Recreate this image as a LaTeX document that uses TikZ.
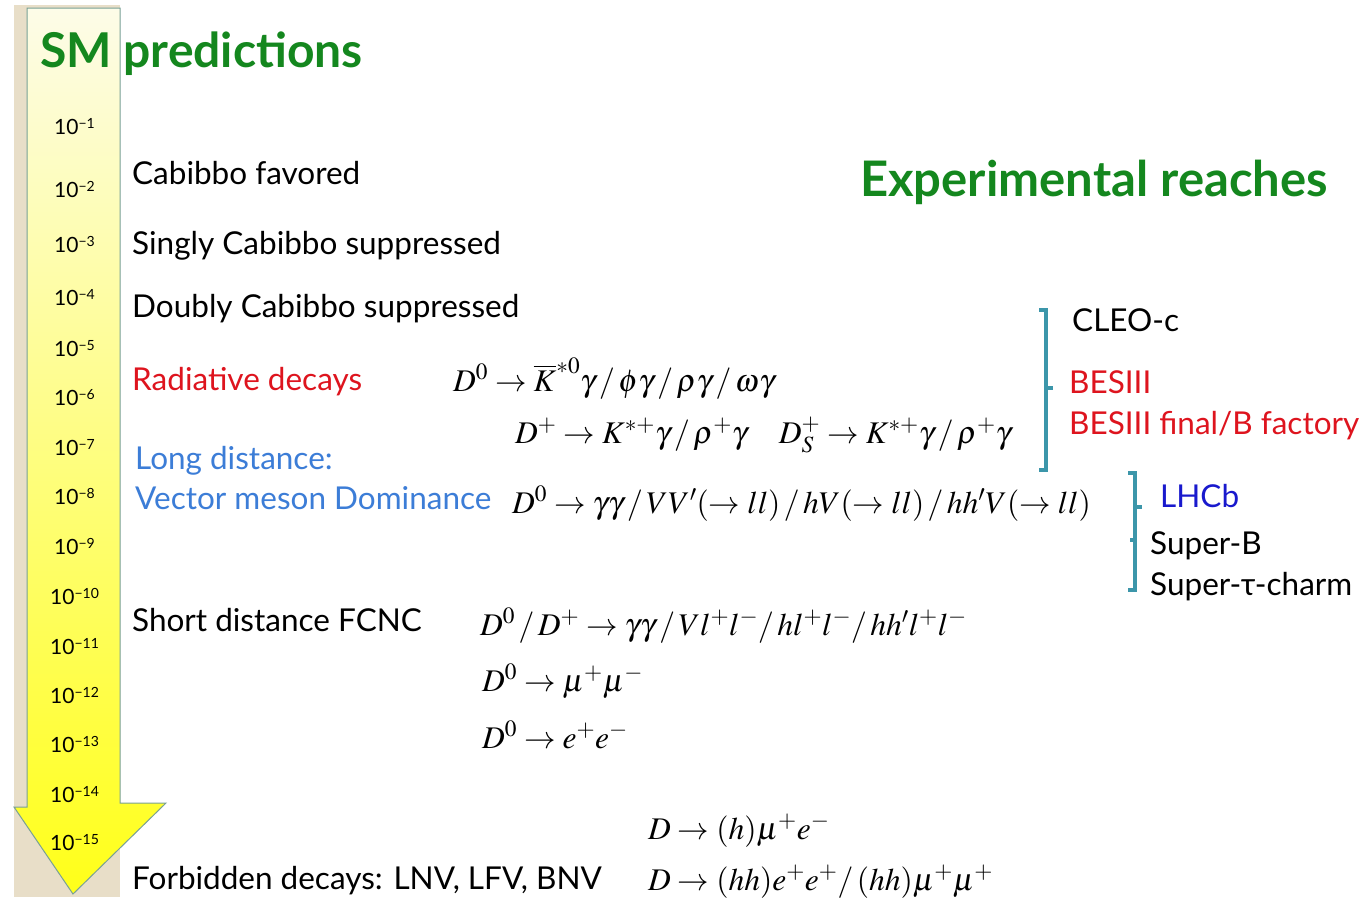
\documentclass[tikz,border=0pt]{standalone}
\usepackage{mathptmx}
\usepackage[no-math]{fontspec}
\setmainfont{Lato}
\definecolor{smgreen}{RGB}{20,135,30}
\definecolor{radred}{RGB}{222,20,30}
\definecolor{ldblue}{RGB}{60,125,215}
\definecolor{lhcblue}{RGB}{25,25,205}
\definecolor{brteal}{RGB}{60,150,170}
\definecolor{beige}{RGB}{232,222,200}
\definecolor{arrowedge}{RGB}{120,160,150}
\definecolor{paleyel}{RGB}{253,252,232}
\definecolor{midyel}{RGB}{255,253,110}
\definecolor{deepyel}{RGB}{255,255,25}
\tikzset{
  lbl/.style={anchor=base west, inner sep=0pt, font=\fontsize{31.5}{36}\selectfont},
  eq/.style={anchor=base west, inner sep=0pt, font=\fontsize{31.5}{36}\selectfont},
  tick/.style={anchor=base west, inner sep=0pt, font=\fontsize{21}{24}\selectfont},
  ttl/.style={anchor=base west, inner sep=0pt, text=smgreen, font=\fontsize{48}{54}\selectfont\bfseries},
  brace/.style={draw=brteal, line width=3.8pt},
}
\newcommand{\tk}[1]{10\raisebox{0.55ex}{\fontsize{14}{14}\selectfont\textminus#1}}
\begin{document}
\begin{tikzpicture}[x=1pt,y=-1pt]
\useasboundingbox (0,0) rectangle (1367,897);
\fill[white] (0,0) rectangle (1367,897);
% background strip
\fill[beige] (14,5) rectangle (120,897);
% arrow
\shade[top color=paleyel, middle color=midyel, bottom color=deepyel, draw=arrowedge, line width=1pt]
  (27,8) -- (120,8) -- (120,803) -- (166,803) -- (73,894) -- (14,807) -- (27,807) -- cycle;
% titles
\node[ttl] (sm) at (40,67) {SM predictions};
\node[ttl, font=\fontsize{49}{55}\selectfont\bfseries] (exp) at (860,196) {Experimental reaches};
% ticks
\node[tick] (t1) at (54,134) {\tk{1}};
\node[tick] (t2) at (54,197) {\tk{2}};
\node[tick] (t3) at (54,252) {\tk{3}};
\node[tick] (t4) at (54,305) {\tk{4}};
\node[tick] (t5) at (54,356) {\tk{5}};
\node[tick] (t6) at (54,405) {\tk{6}};
\node[tick] (t7) at (54,455) {\tk{7}};
\node[tick] (t8) at (54,504) {\tk{8}};
\node[tick] (t9) at (54,554) {\tk{9}};
\node[tick] (t10) at (50,604) {\tk{10}};
\node[tick] (t11) at (50,654) {\tk{11}};
\node[tick] (t12) at (50,703) {\tk{12}};
\node[tick] (t13) at (50,752) {\tk{13}};
\node[tick] (t14) at (50,802) {\tk{14}};
\node[tick] (t15) at (50,850) {\tk{15}};
% category labels
\node[lbl] (cf) at (132,184) {Cabibbo favored};
\node[lbl] (scs) at (132,254) {Singly Cabibbo suppressed};
\node[lbl] (dcs) at (132,317) {Doubly Cabibbo suppressed};
\node[lbl, text=radred] (rad) at (132,390) {Radiative decays};
\node[lbl, text=ldblue] (ld) at (135,469) {Long distance:};
\node[lbl, text=ldblue] (vmd) at (135,509) {Vector meson Dominance};
\node[lbl] (sd) at (132,631) {Short distance FCNC};
\node[lbl] (fb) at (132,889) {Forbidden decays: LNV, LFV, BNV};
% formulas
\node[eq] (f1) at (453,391) {$D^0 \rightarrow \overline{K}^{*0}\gamma\,/\,\phi\gamma\,/\,\rho\gamma\,/\,\omega\gamma$};
\node[eq] (f2) at (515,443) {$D^+ \rightarrow K^{*+}\gamma\,/\,\rho^+\gamma\quad D_S^+ \rightarrow K^{*+}\gamma\,/\,\rho^+\gamma$};
\node[eq] (f3) at (512,513) {$D^0 \rightarrow \gamma\gamma\,/\,VV'(\rightarrow ll)\,/\,hV(\rightarrow ll)\,/\,hh'V(\rightarrow ll)$};
\node[eq] (f4) at (480,635) {$D^0\,/\,D^+ \rightarrow \gamma\gamma\,/\,Vl^+l^-/\,hl^+l^-/\,hh'l^+l^-$};
\node[eq] (f5) at (482,691) {$D^0 \rightarrow \mu^+\mu^-$};
\node[eq] (f6) at (482,748) {$D^0 \rightarrow e^+e^-$};
\node[eq] (f7) at (648,839) {$D \rightarrow (h)\mu^+e^-$};
\node[eq] (f8) at (648,890) {$D \rightarrow (hh)e^+e^+/\,(hh)\mu^+\mu^+$};
% experiments
\node[lbl] (cleo) at (1072,331) {CLEO-c};
\node[lbl, text=radred] (bes) at (1069,393) {BESIII};
\node[lbl, text=radred] (besf) at (1069,434) {BESIII final/B factory};
\node[lbl, text=lhcblue] (lhcb) at (1160,507) {LHCb};
\node[lbl] (sb) at (1150,554) {Super-B};
\node[lbl] (stc) at (1150,595) {Super-τ-charm};
% brackets
\draw[brace] (1039,310) -- (1046,310) -- (1046,470) -- (1039,470);
\draw[brace] (1046,388) -- (1053,388);
\draw[brace] (1128,473) -- (1135,473) -- (1135,590) -- (1128,590);
\draw[brace] (1135,507) -- (1142,507);
\draw[brace] (1135,540) -- (1130,540);
\end{tikzpicture}
\end{document}
